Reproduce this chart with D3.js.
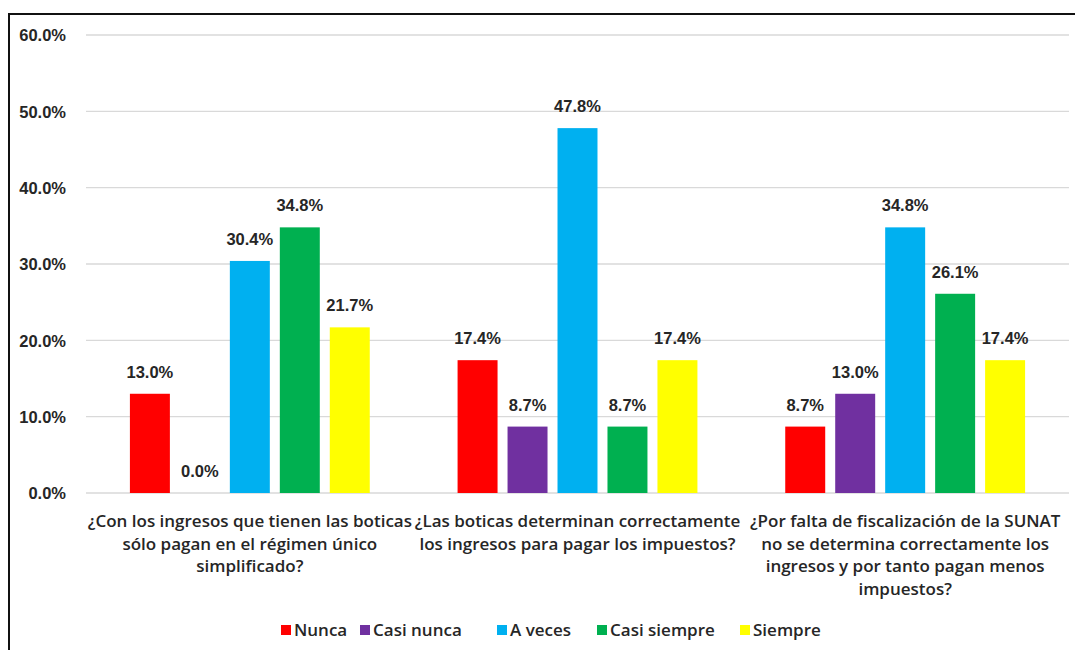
<!DOCTYPE html>
<html>
<head>
<meta charset="utf-8">
<script src="https://cdn.jsdelivr.net/npm/d3@7"></script>
<style>
  html, body { margin: 0; padding: 0; background: #fff; }
  svg { display: block; }
</style>
</head>
<body>
<svg id="chart" width="1075" height="650"></svg>
<script>
// ---- data ----
const categories = [
  ["¿Con los ingresos que tienen las boticas", "sólo pagan en el régimen único", "simplificado?"],
  ["¿Las boticas determinan correctamente", "los ingresos para pagar los impuestos?"],
  ["¿Por falta de fiscalización de la SUNAT", "no se determina correctamente los", "ingresos y por tanto pagan menos", "impuestos?"]
];
const seriesNames = ["Nunca", "Casi nunca", "A veces", "Casi siempre", "Siempre"];
const seriesColors = ["#FF0000", "#7030A0", "#00B0F0", "#00B050", "#FFFF00"];
const nunca       = [13.0, 17.4, 8.7];
const casiNunca   = [0.0, 8.7, 13.0];
const aVeces      = [30.4, 47.8, 34.8];
const casiSiempre = [34.8, 8.7, 26.1];
const siempre     = [21.7, 17.4, 17.4];
const seriesValues = [nunca, casiNunca, aVeces, casiSiempre, siempre];
const yTicks = [0, 10, 20, 30, 40, 50, 60];

(function () {
// ---- layout ----
const svg = d3.select("#chart");
const pLeft = 86, pRight = 1069, pTop = 35, pBottom = 493;
const numFont = "'Liberation Sans', Arial, sans-serif";
const txtFont = "'Open Sans', Lato, sans-serif";

// frame
svg.append("path")
  .attr("d", `M9,660 L9,14 L1080,14`)
  .attr("fill", "none").attr("stroke", "#111").attr("stroke-width", 2);

const x0 = d3.scaleBand().domain(d3.range(categories.length)).range([pLeft, pRight]).padding(0);
const bw0 = x0.bandwidth();
const x1 = d3.scaleBand().domain(d3.range(seriesNames.length))
  .range([bw0 * 0.134, bw0 * (1 - 0.134)]).paddingInner(0.2).paddingOuter(0);
const y = d3.scaleLinear().domain([0, 60]).range([pBottom, pTop]);

// gridlines
svg.append("g").selectAll("line").data(yTicks).join("line")
  .attr("x1", pLeft).attr("x2", pRight)
  .attr("y1", d => y(d)).attr("y2", d => y(d))
  .attr("stroke", "#d9d9d9").attr("stroke-width", 1.3);

// y axis labels
const yAxis = d3.axisLeft(y).tickValues(yTicks).tickSize(0).tickPadding(0)
  .tickFormat(d => d.toFixed(1) + "%");
const yg = svg.append("g").attr("transform", `translate(66,0)`).call(yAxis);
yg.select(".domain").remove();
yg.selectAll("text")
  .attr("font-family", numFont)
  .attr("font-weight", "bold").attr("font-size", 16.5).attr("fill", "#262626")
  .attr("dy", "0.36em");

// bars
const groups = svg.append("g").selectAll("g").data(categories).join("g")
  .attr("transform", (d, i) => `translate(${x0(i)},0)`);

seriesNames.forEach((name, s) => {
  groups.append("rect")
    .attr("x", x1(s))
    .attr("width", x1.bandwidth())
    .attr("y", (d, i) => y(seriesValues[s][i]))
    .attr("height", (d, i) => pBottom - y(seriesValues[s][i]))
    .attr("fill", seriesColors[s]);
  groups.append("text")
    .attr("x", x1(s) + x1.bandwidth() / 2)
    .attr("y", (d, i) => y(seriesValues[s][i]) - 16)
    .attr("text-anchor", "middle")
    .attr("font-family", numFont)
    .attr("font-weight", "bold").attr("font-size", 16.5).attr("fill", "#262626")
    .text((d, i) => seriesValues[s][i].toFixed(1) + "%");
});

// category labels
groups.each(function(lines, i) {
  const t = d3.select(this).append("text")
    .attr("text-anchor", "middle")
    .attr("font-family", txtFont).attr("font-weight", 600)
    .attr("font-size", 17).attr("fill", "#262626");
  lines.forEach((ln, k) => {
    t.append("tspan").attr("x", bw0 / 2).attr("y", 527 + k * 22.5).text(ln);
  });
});

// legend
const legendX = [281, 360, 497, 597, 740];
const lg = svg.append("g").selectAll("g").data(seriesNames).join("g")
  .attr("transform", (d, i) => `translate(${legendX[i]},630)`);
lg.append("rect").attr("x", 0).attr("y", -5).attr("width", 10).attr("height", 10)
  .attr("fill", (d, i) => seriesColors[i]);
lg.append("text").attr("x", 13).attr("y", 0).attr("dy", "0.36em")
  .attr("font-family", txtFont).attr("font-weight", 600)
  .attr("font-size", 17).attr("fill", "#262626")
  .text(d => d);
})();
</script>
</body>
</html>
